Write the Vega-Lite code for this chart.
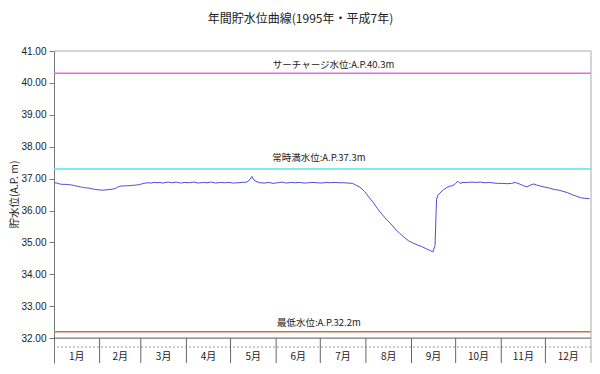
{
  "$schema": "https://vega.github.io/schema/vega-lite/v6.json",
  "width": 537,
  "height": 312,
  "autosize": {"type": "none"},
  "padding": {"left": 54, "top": 51, "right": 9, "bottom": 11},
  "background": "white",
  "config": {
    "view": {"stroke": null},
    "axisY": {"grid": false, "tickCount": 10, "labelOverlap": false, "labelFont": "Liberation Sans", "labelFontSize": 10, "labelColor": "#222222", "labelPadding": 3, "tickSize": 5, "tickColor": "#777777", "domainColor": "#777777", "titleFont": "Noto Sans CJK JP", "titleFontSize": 10.5, "titleFontWeight": "normal", "titleColor": "#222222", "titleX": -40, "titleY": 143, "titleAngle": -90, "titleAlign": "center", "titleBaseline": "middle"}
  },
  "title": {"text": "年間貯水位曲線(1995年・平成7年)", "fontSize": 12, "fontWeight": "normal", "font": "Noto Sans CJK JP", "color": "#222222", "dx": -22, "offset": 20, "anchor": "middle"},
  "data": {"values": [
      {"day": 0, "level": 36.87}, {"day": 2, "level": 36.86}, {"day": 4, "level": 36.83}, {"day": 6, "level": 36.82}, {"day": 8, "level": 36.82},
      {"day": 10, "level": 36.81}, {"day": 12, "level": 36.8}, {"day": 14, "level": 36.78}, {"day": 16, "level": 36.76}, {"day": 18, "level": 36.74},
      {"day": 20, "level": 36.72}, {"day": 22, "level": 36.71}, {"day": 24, "level": 36.7}, {"day": 26, "level": 36.68}, {"day": 28, "level": 36.66},
      {"day": 30, "level": 36.65}, {"day": 32, "level": 36.64}, {"day": 34, "level": 36.64}, {"day": 36, "level": 36.65}, {"day": 38, "level": 36.66},
      {"day": 40, "level": 36.67}, {"day": 42, "level": 36.7}, {"day": 44, "level": 36.75}, {"day": 46, "level": 36.77}, {"day": 48, "level": 36.77},
      {"day": 50, "level": 36.78}, {"day": 52, "level": 36.78}, {"day": 54, "level": 36.79}, {"day": 56, "level": 36.8}, {"day": 58, "level": 36.81},
      {"day": 60, "level": 36.84}, {"day": 62, "level": 36.86}, {"day": 64, "level": 36.87}, {"day": 66, "level": 36.86}, {"day": 68, "level": 36.88},
      {"day": 70, "level": 36.87}, {"day": 72, "level": 36.88}, {"day": 74, "level": 36.86}, {"day": 76, "level": 36.88}, {"day": 78, "level": 36.89},
      {"day": 80, "level": 36.87}, {"day": 83, "level": 36.89}, {"day": 86, "level": 36.86}, {"day": 89, "level": 36.88}, {"day": 92, "level": 36.87},
      {"day": 95, "level": 36.89}, {"day": 98, "level": 36.86}, {"day": 101, "level": 36.88}, {"day": 104, "level": 36.87}, {"day": 107, "level": 36.89},
      {"day": 110, "level": 36.86}, {"day": 113, "level": 36.88}, {"day": 116, "level": 36.87}, {"day": 119, "level": 36.88}, {"day": 122, "level": 36.86},
      {"day": 125, "level": 36.87}, {"day": 128, "level": 36.88}, {"day": 131, "level": 36.89}, {"day": 133, "level": 36.96}, {"day": 134.5, "level": 37.07},
      {"day": 136, "level": 36.95}, {"day": 138, "level": 36.9}, {"day": 140, "level": 36.87}, {"day": 143, "level": 36.86}, {"day": 146, "level": 36.88},
      {"day": 149, "level": 36.85}, {"day": 152, "level": 36.87}, {"day": 155, "level": 36.89}, {"day": 158, "level": 36.86}, {"day": 161, "level": 36.88},
      {"day": 164, "level": 36.87}, {"day": 167, "level": 36.88}, {"day": 170, "level": 36.86}, {"day": 173, "level": 36.87}, {"day": 176, "level": 36.88},
      {"day": 179, "level": 36.87}, {"day": 182, "level": 36.86}, {"day": 185, "level": 36.88}, {"day": 188, "level": 36.87}, {"day": 191, "level": 36.88},
      {"day": 194, "level": 36.87}, {"day": 197, "level": 36.87}, {"day": 200, "level": 36.86}, {"day": 203, "level": 36.85}, {"day": 205, "level": 36.8},
      {"day": 208, "level": 36.73}, {"day": 211, "level": 36.6}, {"day": 214, "level": 36.42}, {"day": 217, "level": 36.25}, {"day": 220, "level": 36.05},
      {"day": 223, "level": 35.88}, {"day": 226, "level": 35.72}, {"day": 229, "level": 35.58}, {"day": 232, "level": 35.42}, {"day": 235, "level": 35.28},
      {"day": 238, "level": 35.16}, {"day": 241, "level": 35.05}, {"day": 244, "level": 34.98}, {"day": 247, "level": 34.92}, {"day": 250, "level": 34.87},
      {"day": 253, "level": 34.8}, {"day": 256, "level": 34.74}, {"day": 257.5, "level": 34.7}, {"day": 259, "level": 34.9}, {"day": 260, "level": 36.35},
      {"day": 261, "level": 36.48}, {"day": 263, "level": 36.58}, {"day": 265, "level": 36.66}, {"day": 267, "level": 36.72}, {"day": 269, "level": 36.76},
      {"day": 271, "level": 36.78}, {"day": 273, "level": 36.85}, {"day": 274.5, "level": 36.92}, {"day": 276, "level": 36.85}, {"day": 278, "level": 36.88},
      {"day": 281, "level": 36.88}, {"day": 284, "level": 36.89}, {"day": 287, "level": 36.88}, {"day": 290, "level": 36.89}, {"day": 293, "level": 36.87},
      {"day": 296, "level": 36.88}, {"day": 299, "level": 36.86}, {"day": 302, "level": 36.85}, {"day": 305, "level": 36.85}, {"day": 308, "level": 36.84},
      {"day": 311, "level": 36.85}, {"day": 313.5, "level": 36.88}, {"day": 316, "level": 36.84}, {"day": 319, "level": 36.78}, {"day": 321.5, "level": 36.74},
      {"day": 324, "level": 36.8}, {"day": 326, "level": 36.83}, {"day": 328, "level": 36.8}, {"day": 331, "level": 36.76}, {"day": 334, "level": 36.73},
      {"day": 337, "level": 36.7}, {"day": 340, "level": 36.66}, {"day": 343, "level": 36.64}, {"day": 346, "level": 36.6}, {"day": 349, "level": 36.56},
      {"day": 352, "level": 36.5}, {"day": 355, "level": 36.45}, {"day": 358, "level": 36.4}, {"day": 361, "level": 36.38}, {"day": 364, "level": 36.37}
  ]},
  "layer": [
    {
      "mark": {"type": "line", "color": "#4d4dd6", "strokeWidth": 1},
      "encoding": {
        "x": {"field": "day", "type": "quantitative", "scale": {"domain": [0, 365], "nice": false, "zero": false}, "axis": null},
        "y": {
          "field": "level", "type": "quantitative",
          "scale": {"domain": [31.22, 41], "nice": false, "zero": false},
          "axis": {"values": [32, 33, 34, 35, 36, 37, 38, 39, 40, 41], "tickCount": 10, "format": ".2f", "labelOverlap": false, "title": "貯水位(A.P. m)"}
        }
      }
    },
    {
      "data": {"values": [
        {"kind": "surcharge", "level": 40.3},
        {"kind": "full", "level": 37.3},
        {"kind": "min", "level": 32.2}
      ]},
      "mark": {"type": "rule", "strokeWidth": 1.5},
      "encoding": {
        "y": {"field": "level", "type": "quantitative"},
        "color": {"field": "kind", "type": "nominal", "scale": {"domain": ["surcharge", "full", "min"], "range": ["#ee66ee", "#55e6e6", "#c4724c"]}, "legend": null}
      }
    },
    {
      "data": {"values": [{"level": 40.3, "label": "サーチャージ水位:A.P.40.3m", "day": 190}]},
      "mark": {"type": "text", "baseline": "middle", "align": "center", "dy": -8, "fontSize": 9.5, "color": "#222222", "font": "Noto Sans CJK JP"},
      "encoding": {"x": {"field": "day", "type": "quantitative", "axis": null}, "y": {"field": "level", "type": "quantitative"}, "text": {"field": "label", "type": "nominal"}}
    },
    {
      "data": {"values": [{"level": 37.3, "label": "常時満水位:A.P.37.3m", "day": 180}]},
      "mark": {"type": "text", "baseline": "middle", "align": "center", "dy": -11, "fontSize": 9.5, "color": "#222222", "font": "Noto Sans CJK JP"},
      "encoding": {"x": {"field": "day", "type": "quantitative", "axis": null}, "y": {"field": "level", "type": "quantitative"}, "text": {"field": "label", "type": "nominal"}}
    },
    {
      "data": {"values": [{"level": 32.2, "label": "最低水位:A.P.32.2m", "day": 180}]},
      "mark": {"type": "text", "baseline": "middle", "align": "center", "dy": -9, "fontSize": 9.5, "color": "#222222", "font": "Noto Sans CJK JP"},
      "encoding": {"x": {"field": "day", "type": "quantitative", "axis": null}, "y": {"field": "level", "type": "quantitative"}, "text": {"field": "label", "type": "nominal"}}
    },
    {
      "data": {"values": [{"level": 32}]},
      "mark": {"type": "rule", "color": "#555555", "strokeWidth": 1},
      "encoding": {"y": {"field": "level", "type": "quantitative"}}
    },
    {
      "data": {"values": [{"level": 41}]},
      "mark": {"type": "rule", "color": "#aaaaaa", "strokeWidth": 1},
      "encoding": {"y": {"field": "level", "type": "quantitative"}}
    },
    {
      "data": {"values": [{"day": 365}]},
      "mark": {"type": "rule", "color": "#aaaaaa", "strokeWidth": 1},
      "encoding": {"x": {"field": "day", "type": "quantitative", "axis": null}}
    },
    {
      "data": {"values": [{"level": 31.72}]},
      "mark": {"type": "rule", "color": "#999999", "strokeWidth": 1, "strokeDash": [2, 2]},
      "encoding": {"y": {"field": "level", "type": "quantitative"}}
    },
    {
      "data": {"values": [
        {"day": 31, "low": 31.22, "high": 32}, {"day": 59, "low": 31.22, "high": 32}, {"day": 90, "low": 31.22, "high": 32},
        {"day": 120, "low": 31.22, "high": 32}, {"day": 151, "low": 31.22, "high": 32}, {"day": 181, "low": 31.22, "high": 32},
        {"day": 212, "low": 31.22, "high": 32}, {"day": 243, "low": 31.22, "high": 32}, {"day": 273, "low": 31.22, "high": 32},
        {"day": 304, "low": 31.22, "high": 32}, {"day": 334, "low": 31.22, "high": 32}
      ]},
      "mark": {"type": "rule", "color": "#666666", "strokeWidth": 1},
      "encoding": {
        "x": {"field": "day", "type": "quantitative", "axis": null},
        "y": {"field": "low", "type": "quantitative"},
        "y2": {"field": "high"}
      }
    },
    {
      "data": {"values": [
        {"month": "1月", "day": 15.5, "level": 31.4}, {"month": "2月", "day": 45, "level": 31.4}, {"month": "3月", "day": 74.5, "level": 31.4},
        {"month": "4月", "day": 105, "level": 31.4}, {"month": "5月", "day": 135.5, "level": 31.4}, {"month": "6月", "day": 166, "level": 31.4},
        {"month": "7月", "day": 196.5, "level": 31.4}, {"month": "8月", "day": 227.5, "level": 31.4}, {"month": "9月", "day": 258, "level": 31.4},
        {"month": "10月", "day": 288.5, "level": 31.4}, {"month": "11月", "day": 319, "level": 31.4}, {"month": "12月", "day": 349.5, "level": 31.4}
      ]},
      "mark": {"type": "text", "baseline": "middle", "align": "center", "fontSize": 10, "color": "#222222", "font": "Noto Sans CJK JP"},
      "encoding": {
        "x": {"field": "day", "type": "quantitative", "axis": null},
        "y": {"field": "level", "type": "quantitative"},
        "text": {"field": "month", "type": "nominal"}
      }
    }
  ]
}
